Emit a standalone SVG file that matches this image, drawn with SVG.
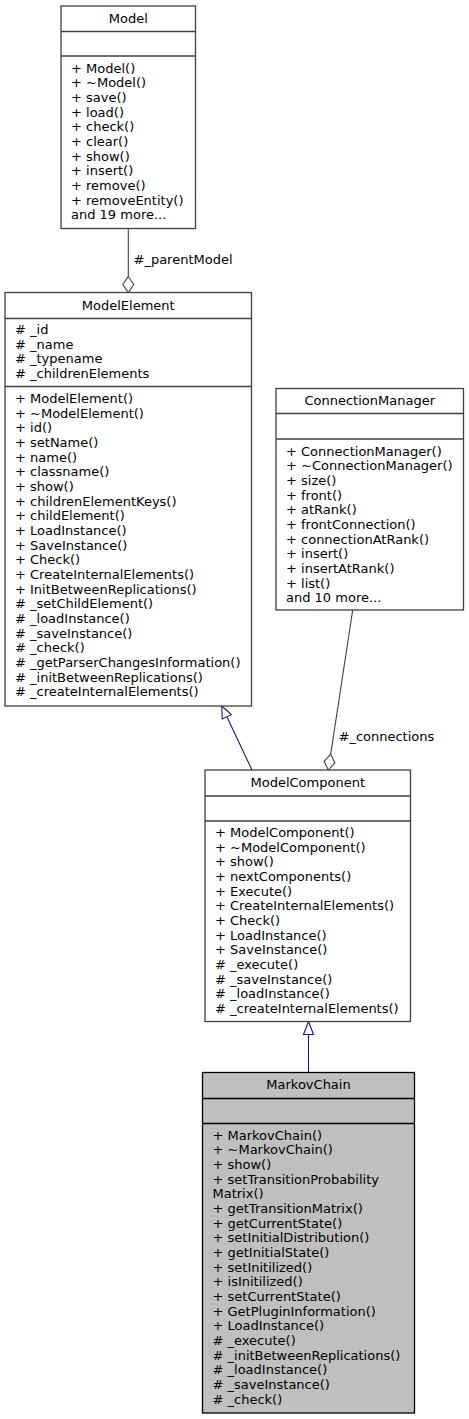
<svg xmlns="http://www.w3.org/2000/svg" width="469" height="1419" viewBox="0 0 469 1419">
<style>
text{font-family:"DejaVu Sans","Liberation Sans",sans-serif;font-size:13px;fill:#000}
.hd{text-anchor:middle}
.box{fill:#fff;stroke:#404040;stroke-width:1.3}
.sel{fill:#bfbfbf;stroke:#000;stroke-width:1.3}
.sep{stroke:#404040;stroke-width:1.3}
.sep2{stroke:#000;stroke-width:1.3}
.agg{stroke:#404040;stroke-width:1.1;fill:none}
.aggh{stroke:#404040;stroke-width:1.1;fill:#fff}
.inh{stroke:#191970;stroke-width:1.1;fill:none}
.inhh{stroke:#191970;stroke-width:1.1;fill:#fff}
</style>
<rect width="469" height="1419" fill="#fff"/>
<g id="edges">
<line class="agg" x1="128.3" y1="228.5" x2="128.3" y2="276.5"/>
<polygon class="aggh" points="128.3,276.5 133.8,284.5 128.3,292.5 122.8,284.5"/>
<text x="133.5" y="263.5">#_parentModel</text>
<line class="agg" x1="352.7" y1="610" x2="330.7" y2="754.2"/>
<polygon class="aggh" points="330.7,754.2 334.9,762.9 328.3,770 324.1,761.3"/>
<text x="338.5" y="740.5">#_connections</text>
<line class="inh" x1="252" y1="770" x2="226.84" y2="716.85"/>
<polygon class="inhh" points="221.7,706 231.36,714.71 222.32,718.99"/>
<line class="inh" x1="308.5" y1="1072.5" x2="308.5" y2="1034.5"/>
<polygon class="inhh" points="308.5,1021.5 313.5,1034.5 303.5,1034.5"/>
</g>
<g id="Model">
<rect class="box" x="61" y="6" width="134.5" height="222.5"/>
<line class="sep" x1="61" y1="31.5" x2="195.5" y2="31.5"/>
<line class="sep" x1="61" y1="56" x2="195.5" y2="56"/>
<text class="hd" x="128.25" y="22.5">Model</text>
<text x="71" y="72.5"><tspan x="71">+ Model()</tspan><tspan x="71" dy="14.67">+ ~Model()</tspan><tspan x="71" dy="14.67">+ save()</tspan><tspan x="71" dy="14.67">+ load()</tspan><tspan x="71" dy="14.67">+ check()</tspan><tspan x="71" dy="14.67">+ clear()</tspan><tspan x="71" dy="14.67">+ show()</tspan><tspan x="71" dy="14.67">+ insert()</tspan><tspan x="71" dy="14.67">+ remove()</tspan><tspan x="71" dy="14.67">+ removeEntity()</tspan><tspan x="71" dy="14.67">and 19 more...</tspan></text>
</g>
<g id="ModelElement">
<rect class="box" x="5" y="292.5" width="246.5" height="413.5"/>
<line class="sep" x1="5" y1="318.5" x2="251.5" y2="318.5"/>
<line class="sep" x1="5" y1="386.5" x2="251.5" y2="386.5"/>
<text class="hd" x="128.25" y="309.5">ModelElement</text>
<text x="15" y="334"><tspan x="15"># _id</tspan><tspan x="15" dy="14.67"># _name</tspan><tspan x="15" dy="14.67"># _typename</tspan><tspan x="15" dy="14.67"># _childrenElements</tspan></text>
<text x="15" y="403"><tspan x="15">+ ModelElement()</tspan><tspan x="15" dy="14.67">+ ~ModelElement()</tspan><tspan x="15" dy="14.67">+ id()</tspan><tspan x="15" dy="14.67">+ setName()</tspan><tspan x="15" dy="14.67">+ name()</tspan><tspan x="15" dy="14.67">+ classname()</tspan><tspan x="15" dy="14.67">+ show()</tspan><tspan x="15" dy="14.67">+ childrenElementKeys()</tspan><tspan x="15" dy="14.67">+ childElement()</tspan><tspan x="15" dy="14.67">+ LoadInstance()</tspan><tspan x="15" dy="14.67">+ SaveInstance()</tspan><tspan x="15" dy="14.67">+ Check()</tspan><tspan x="15" dy="14.67">+ CreateInternalElements()</tspan><tspan x="15" dy="14.67">+ InitBetweenReplications()</tspan><tspan x="15" dy="14.67"># _setChildElement()</tspan><tspan x="15" dy="14.67"># _loadInstance()</tspan><tspan x="15" dy="14.67"># _saveInstance()</tspan><tspan x="15" dy="14.67"># _check()</tspan><tspan x="15" dy="14.67"># _getParserChangesInformation()</tspan><tspan x="15" dy="14.67"># _initBetweenReplications()</tspan><tspan x="15" dy="14.67"># _createInternalElements()</tspan></text>
</g>
<g id="ConnectionManager">
<rect class="box" x="276" y="388.5" width="187.5" height="221.5"/>
<line class="sep" x1="276" y1="413.5" x2="463.5" y2="413.5"/>
<line class="sep" x1="276" y1="439" x2="463.5" y2="439"/>
<text class="hd" x="369.75" y="405">ConnectionManager</text>
<text x="286" y="455.5"><tspan x="286">+ ConnectionManager()</tspan><tspan x="286" dy="14.67">+ ~ConnectionManager()</tspan><tspan x="286" dy="14.67">+ size()</tspan><tspan x="286" dy="14.67">+ front()</tspan><tspan x="286" dy="14.67">+ atRank()</tspan><tspan x="286" dy="14.67">+ frontConnection()</tspan><tspan x="286" dy="14.67">+ connectionAtRank()</tspan><tspan x="286" dy="14.67">+ insert()</tspan><tspan x="286" dy="14.67">+ insertAtRank()</tspan><tspan x="286" dy="14.67">+ list()</tspan><tspan x="286" dy="14.67">and 10 more...</tspan></text>
</g>
<g id="ModelComponent">
<rect class="box" x="205" y="770" width="205.5" height="251.5"/>
<line class="sep" x1="205" y1="796" x2="410.5" y2="796"/>
<line class="sep" x1="205" y1="821" x2="410.5" y2="821"/>
<text class="hd" x="307.75" y="786.5">ModelComponent</text>
<text x="215" y="837"><tspan x="215">+ ModelComponent()</tspan><tspan x="215" dy="14.67">+ ~ModelComponent()</tspan><tspan x="215" dy="14.67">+ show()</tspan><tspan x="215" dy="14.67">+ nextComponents()</tspan><tspan x="215" dy="14.67">+ Execute()</tspan><tspan x="215" dy="14.67">+ CreateInternalElements()</tspan><tspan x="215" dy="14.67">+ Check()</tspan><tspan x="215" dy="14.67">+ LoadInstance()</tspan><tspan x="215" dy="14.67">+ SaveInstance()</tspan><tspan x="215" dy="14.67"># _execute()</tspan><tspan x="215" dy="14.67"># _saveInstance()</tspan><tspan x="215" dy="14.67"># _loadInstance()</tspan><tspan x="215" dy="14.67"># _createInternalElements()</tspan></text>
</g>
<g id="MarkovChain">
<rect class="sel" x="202.5" y="1072.5" width="212" height="340.5"/>
<line class="sep2" x1="202.5" y1="1098.5" x2="414.5" y2="1098.5"/>
<line class="sep2" x1="202.5" y1="1123.5" x2="414.5" y2="1123.5"/>
<text class="hd" x="308.5" y="1089">MarkovChain</text>
<text x="212.5" y="1139.5"><tspan x="212.5">+ MarkovChain()</tspan><tspan x="212.5" dy="14.67">+ ~MarkovChain()</tspan><tspan x="212.5" dy="14.67">+ show()</tspan><tspan x="212.5" dy="14.67">+ setTransitionProbability</tspan><tspan x="212.5" dy="14.67">Matrix()</tspan><tspan x="212.5" dy="14.67">+ getTransitionMatrix()</tspan><tspan x="212.5" dy="14.67">+ getCurrentState()</tspan><tspan x="212.5" dy="14.67">+ setInitialDistribution()</tspan><tspan x="212.5" dy="14.67">+ getInitialState()</tspan><tspan x="212.5" dy="14.67">+ setInitilized()</tspan><tspan x="212.5" dy="14.67">+ isInitilized()</tspan><tspan x="212.5" dy="14.67">+ setCurrentState()</tspan><tspan x="212.5" dy="14.67">+ GetPluginInformation()</tspan><tspan x="212.5" dy="14.67">+ LoadInstance()</tspan><tspan x="212.5" dy="14.67"># _execute()</tspan><tspan x="212.5" dy="14.67"># _initBetweenReplications()</tspan><tspan x="212.5" dy="14.67"># _loadInstance()</tspan><tspan x="212.5" dy="14.67"># _saveInstance()</tspan><tspan x="212.5" dy="14.67"># _check()</tspan></text>
</g>
</svg>
